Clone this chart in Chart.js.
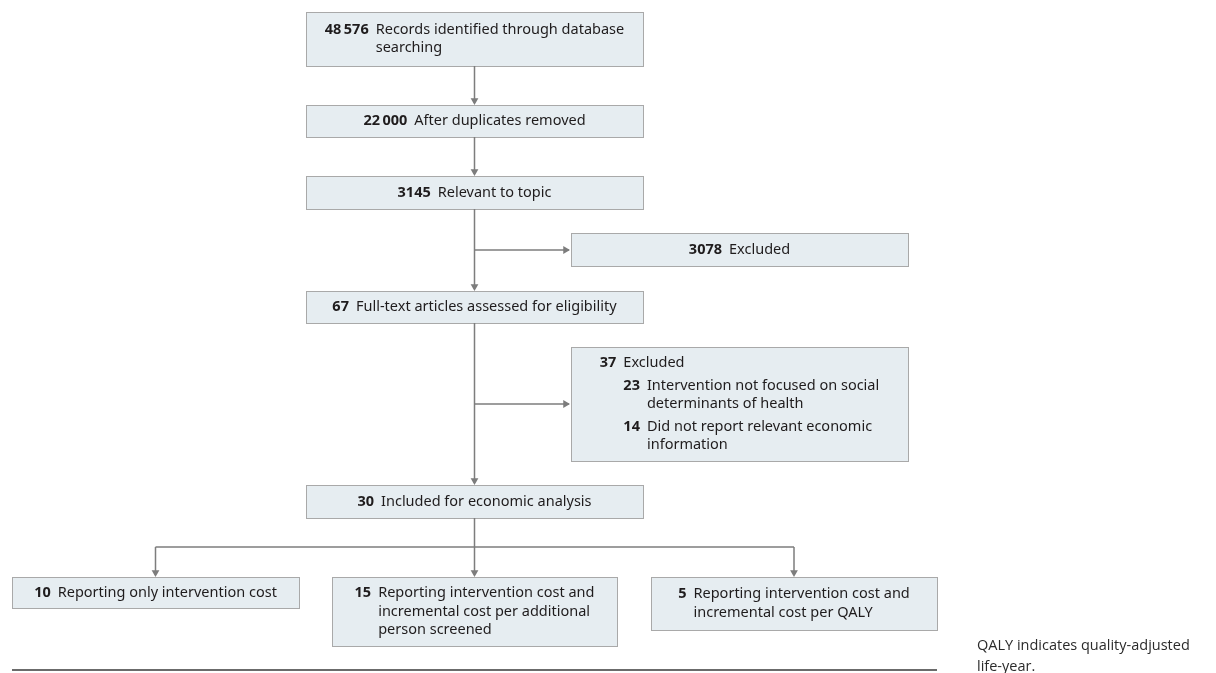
<!DOCTYPE html>
<html>
<head>
<meta charset="utf-8">
<script src="https://cdn.jsdelivr.net/npm/chart.js@4.4.1/dist/chart.umd.min.js"></script>
<style>
  html, body { margin: 0; padding: 0; background: #fff; }
  #flow { display: block; }
</style>
</head>
<body>
<canvas id="flow" width="1216" height="673"></canvas>
<script>
// counts and wording of the review flow
const stageCounts = [48576, 22000, 3145, 67, 30]
const stageLabels = [
  ['Records identified through database', 'searching'],
  ['After duplicates removed'],
  ['Relevant to topic'],
  ['Full-text articles assessed for eligibility'],
  ['Included for economic analysis']
]
const excludedCounts = [3078, 37]
const excludedLabels = ['Excluded', 'Excluded']
const reasonCounts = [23, 14]
const reasonLabels = [
  ['Intervention not focused on social', 'determinants of health'],
  ['Did not report relevant economic', 'information']
]
const outcomeCounts = [10, 15, 5]
const outcomeLabels = [
  ['Reporting only intervention cost'],
  ['Reporting intervention cost and', 'incremental cost per additional', 'person screened'],
  ['Reporting intervention cost and', 'incremental cost per QALY']
]
const noteLines = ['QALY indicates quality-adjusted', 'life-year.']

// layout of the boxes (canvas units), [left, right, top, bottom]
const W = 1216, H = 673
const trunkX = 474.5
const stageBoxes = [[306, 643, 12, 66], [306, 643, 105, 137], [306, 643, 176, 209], [306, 643, 291, 323], [306, 643, 485, 518]]
const excludedBoxes = [[571, 908, 233, 266], [571, 908, 347, 461]]
const excludedBranchY = [250, 404]
const outcomeBoxes = [[12, 299, 577, 608], [332, 617, 577, 646], [651, 937, 577, 630]]
const splitY = 547
const ruleY = 670

const lineColor = '#7d7d7d'
const boxFill = '#e6edf1'
const boxBorder = '#a9a9a9'
const textColor = '#1f1c1d'
const fontFamily = '"Noto Sans", "Open Sans", sans-serif'
const fontSize = 14.5
const lineH = 18.5
const arrowR = 4.5

const fmt = (n) => {
  const s = String(n)
  if (n < 10000) return s
  return s.slice(0, s.length - 3) + '\u2009' + s.slice(s.length - 3)
}

// connectors
const segments = []
const arrows = []
const addArrow = (x, y, dir) => {
  // point sits back from the tip by the triangle radius
  if (dir == 'down') arrows.push({ x: x, y: y - arrowR, rot: 180 })
  else arrows.push({ x: x - arrowR, y: y, rot: 90 })
}

for (let i = 0; i < 4; i++) {
  const a = stageBoxes[i], b = stageBoxes[i + 1]
  segments.push([{ x: trunkX, y: a[3] }, { x: trunkX, y: b[2] - 2 }])
  addArrow(trunkX, b[2], 'down')
}
for (let j = 0; j < excludedBoxes.length; j++) {
  const b = excludedBoxes[j]
  segments.push([{ x: trunkX, y: excludedBranchY[j] }, { x: b[0] - 2, y: excludedBranchY[j] }])
  addArrow(b[0] - 1, excludedBranchY[j], 'right')
}
const centers = outcomeBoxes.map(b => (b[0] + b[1]) / 2)
segments.push([{ x: trunkX, y: stageBoxes[4][3] }, { x: trunkX, y: splitY }])
segments.push([{ x: centers[0], y: splitY }, { x: centers[2], y: splitY }])
for (let k = 0; k < outcomeBoxes.length; k++) {
  segments.push([{ x: centers[k], y: splitY }, { x: centers[k], y: outcomeBoxes[k][2] - 2 }])
  addArrow(centers[k], outcomeBoxes[k][2], 'down')
}

const datasets = segments.map(seg => ({
  type: 'line',
  data: seg,
  borderColor: lineColor,
  borderWidth: 1.5,
  pointRadius: 0,
  showLine: true
}))
datasets.push({
  type: 'line',
  data: [{ x: 12, y: ruleY }, { x: 937, y: ruleY }],
  borderColor: '#6b6b6b',
  borderWidth: 2,
  pointRadius: 0,
  showLine: true
})
datasets.push({
  type: 'scatter',
  data: arrows.map(a => ({ x: a.x, y: a.y })),
  pointStyle: 'triangle',
  pointRadius: arrowR,
  pointRotation: arrows.map(a => a.rot),
  backgroundColor: lineColor,
  borderWidth: 0
})

const boxEntries = []
stageBoxes.forEach((b, i) => boxEntries.push({ box: b, items: [{ num: stageCounts[i], lines: stageLabels[i], level: 0 }] }))
boxEntries.push({ box: excludedBoxes[0], items: [{ num: excludedCounts[0], lines: [excludedLabels[0]], level: 0 }] })
boxEntries.push({
  box: excludedBoxes[1],
  items: [{ num: excludedCounts[1], lines: [excludedLabels[1]], level: 0 }]
    .concat(reasonCounts.map((c, i) => ({ num: c, lines: reasonLabels[i], level: 1 })))
})
outcomeBoxes.forEach((b, i) => boxEntries.push({ box: b, items: [{ num: outcomeCounts[i], lines: outcomeLabels[i], level: 0 }] }))

const boldFont = `bold ${fontSize}px ${fontFamily}`
const normFont = `${fontSize}px ${fontFamily}`
const numGap = 7
const itemGap = 4

const flowPlugin = {
  id: 'flowBoxes',
  beforeDatasetsDraw(chart) {
    const ctx = chart.ctx
    const sx = chart.scales.x, sy = chart.scales.y
    ctx.save()
    for (const e of boxEntries) {
      const [l, r, t, b] = e.box
      const x0 = Math.round(sx.getPixelForValue(l)) + 0.5
      const x1 = Math.round(sx.getPixelForValue(r)) + 0.5
      const y0 = Math.round(sy.getPixelForValue(t)) + 0.5
      const y1 = Math.round(sy.getPixelForValue(b)) + 0.5
      ctx.fillStyle = boxFill
      ctx.fillRect(x0, y0, x1 - x0, y1 - y0)
      ctx.strokeStyle = boxBorder
      ctx.lineWidth = 1
      ctx.strokeRect(x0, y0, x1 - x0, y1 - y0)
    }
    ctx.restore()
  },
  afterDatasetsDraw(chart) {
    const ctx = chart.ctx
    const sx = chart.scales.x, sy = chart.scales.y
    ctx.save()
    ctx.textBaseline = 'middle'
    ctx.textAlign = 'left'
    ctx.fillStyle = textColor
    for (const e of boxEntries) {
      const [l, r, t, b] = e.box
      // lay out relative to block origin
      let rows = []
      let y = 0
      let parentLabelX = 0
      let maxW = 0
      e.items.forEach((it, idx) => {
        if (idx > 0) y += itemGap
        const numStr = fmt(it.num)
        ctx.font = boldFont
        const nw = ctx.measureText(numStr).width
        const nx = it.level == 0 ? 0 : parentLabelX
        const lx = nx + nw + numGap
        if (it.level == 0) parentLabelX = lx
        it.lines.forEach((ln, k) => {
          ctx.font = normFont
          const w = ctx.measureText(ln).width
          maxW = Math.max(maxW, lx + w)
          rows.push({ num: k == 0 ? numStr : null, nx: nx, lx: lx, text: ln, y: y })
          y += lineH
        })
      })
      const blockH = y - lineH
      const cx = sx.getPixelForValue((l + r) / 2)
      const cy = sy.getPixelForValue((t + b) / 2)
      const ox = cx - maxW / 2
      const oy = cy - blockH / 2
      for (const row of rows) {
        if (row.num) {
          ctx.font = boldFont
          ctx.fillText(row.num, ox + row.nx, oy + row.y)
        }
        ctx.font = normFont
        ctx.fillText(row.text, ox + row.lx, oy + row.y)
      }
    }
    // footnote
    ctx.font = `14.5px "Open Sans", "Noto Sans", sans-serif`
    ctx.fillStyle = '#2b2b2b'
    noteLines.forEach((ln, i) => {
      ctx.fillText(ln, sx.getPixelForValue(977), sy.getPixelForValue(646 + i * 21))
    })
    ctx.restore()
  }
}

new Chart(document.getElementById('flow'), {
  data: { datasets: datasets },
  options: {
    responsive: false,
    animation: false,
    events: [],
    layout: { padding: 0, autoPadding: false },
    scales: {
      x: { type: 'linear', min: 0, max: W, display: false },
      y: { type: 'linear', min: 0, max: H, reverse: true, display: false }
    },
    plugins: {
      legend: { display: false },
      tooltip: { enabled: false }
    }
  },
  plugins: [flowPlugin]
})
</script>
</body>
</html>
